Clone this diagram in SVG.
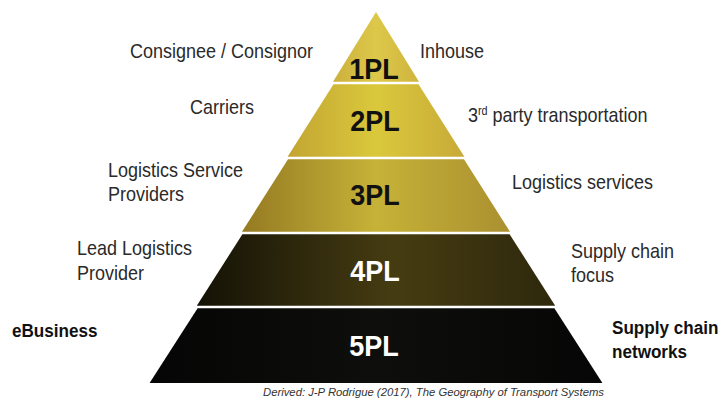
<svg xmlns="http://www.w3.org/2000/svg" width="722" height="407" viewBox="0 0 722 407">
  <defs>
    <linearGradient id="g1" x1="0" y1="0" x2="1" y2="0">
      <stop offset="0" stop-color="#cbb03c"/>
      <stop offset="0.5" stop-color="#ddc84a"/>
      <stop offset="1" stop-color="#cfb43e"/>
    </linearGradient>
    <linearGradient id="g2" x1="0" y1="0" x2="1" y2="0">
      <stop offset="0" stop-color="#c2a532"/>
      <stop offset="0.5" stop-color="#dac83c"/>
      <stop offset="1" stop-color="#c8aa38"/>
    </linearGradient>
    <linearGradient id="g3" x1="0" y1="0" x2="1" y2="0">
      <stop offset="0" stop-color="#957a22"/>
      <stop offset="0.5" stop-color="#c6b238"/>
      <stop offset="1" stop-color="#ab9030"/>
    </linearGradient>
    <linearGradient id="g4" x1="0" y1="0" x2="1" y2="0">
      <stop offset="0" stop-color="#141206"/>
      <stop offset="0.55" stop-color="#463c12"/>
      <stop offset="1" stop-color="#2e280c"/>
    </linearGradient>
    <linearGradient id="g5" x1="0" y1="0" x2="1" y2="0">
      <stop offset="0" stop-color="#050505"/>
      <stop offset="0.5" stop-color="#0e0e0c"/>
      <stop offset="1" stop-color="#060606"/>
    </linearGradient>
  </defs>
  <style>
    .lvl { font-family: "Liberation Sans", Arial, sans-serif; font-weight: bold; font-size: 30px; text-anchor: middle; }
    .dark { fill: #111; }
    .light { fill: #fff; }
    .lbl { font-family: "Liberation Sans", Arial, sans-serif; font-size: 20px; fill: #2a2a2a; }
    .bold { font-family: "Liberation Sans", Arial, sans-serif; font-size: 19px; font-weight: bold; fill: #111; }
    .src { font-family: "Liberation Sans", Arial, sans-serif; font-size: 11.5px; font-style: italic; fill: #333; }
  </style>

  <rect width="722" height="407" fill="#fff"/>

  <!-- pyramid tiers, top to bottom; labels are set in a slightly condensed face -->
  <g id="tier-1pl">
    <polygon points="376,12 419,81.8 333,81.8" fill="url(#g1)"/>
    <text class="lvl dark" transform="translate(374,79) scale(0.9,1)">1PL</text>
  </g>
  <g id="tier-2pl">
    <polygon points="333.5,84.2 418.5,84.2 464.4,156.8 287.6,156.8" fill="url(#g2)"/>
    <text class="lvl dark" transform="translate(375,131) scale(0.9,1)">2PL</text>
  </g>
  <g id="tier-3pl">
    <polygon points="288,159.2 464,159.2 510,231.8 242,231.8" fill="url(#g3)"/>
    <text class="lvl dark" transform="translate(375,205) scale(0.9,1)">3PL</text>
  </g>
  <g id="tier-4pl">
    <polygon points="242.4,234.2 509.6,234.2 555.2,305.8 196.8,305.8" fill="url(#g4)"/>
    <text class="lvl light" transform="translate(375,281) scale(0.9,1)">4PL</text>
  </g>
  <g id="tier-5pl">
    <polygon points="197.6,308.2 554.4,308.2 602.4,383 149.6,383" fill="url(#g5)"/>
    <text class="lvl light" transform="translate(374,356) scale(0.9,1)">5PL</text>
  </g>

  <!-- left-hand descriptions -->
  <g id="left-labels">
    <text class="lbl" transform="translate(130,58) scale(0.9,1)">Consignee / Consignor</text>
    <text class="lbl" transform="translate(190,114) scale(0.9,1)">Carriers</text>
    <text class="lbl" transform="translate(108,177) scale(0.9,1)">Logistics Service</text>
    <text class="lbl" transform="translate(108,201) scale(0.9,1)">Providers</text>
    <text class="lbl" transform="translate(77,255) scale(0.9,1)">Lead Logistics</text>
    <text class="lbl" transform="translate(77,280) scale(0.9,1)">Provider</text>
    <text class="bold" transform="translate(12,337) scale(0.9,1)">eBusiness</text>
  </g>

  <!-- right-hand descriptions -->
  <g id="right-labels">
    <text class="lbl" transform="translate(420,58) scale(0.9,1)">Inhouse</text>
    <text class="lbl" transform="translate(468,122) scale(0.9,1)">3<tspan font-size="12px" dy="-7">rd</tspan><tspan dy="7"> party transportation</tspan></text>
    <text class="lbl" transform="translate(512,189) scale(0.9,1)">Logistics services</text>
    <text class="lbl" transform="translate(571,258) scale(0.9,1)">Supply chain</text>
    <text class="lbl" transform="translate(571,282) scale(0.9,1)">focus</text>
    <text class="bold" transform="translate(612,334) scale(0.9,1)">Supply chain</text>
    <text class="bold" transform="translate(612,358) scale(0.9,1)">networks</text>
  </g>

  <g id="source">
    <text class="src" x="263" y="396" textLength="341" lengthAdjust="spacingAndGlyphs">Derived: J-P Rodrigue (2017), The Geography of Transport Systems</text>
  </g>
</svg>
